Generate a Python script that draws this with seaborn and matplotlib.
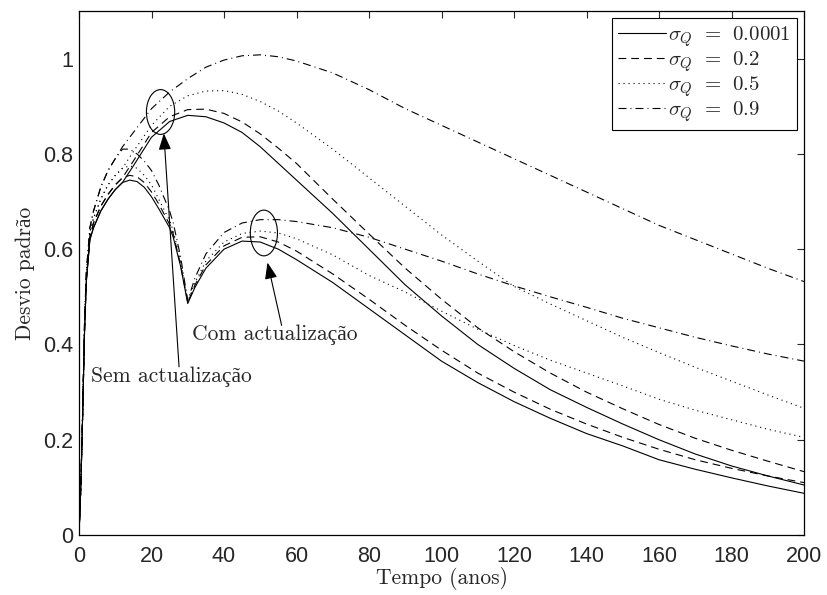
import matplotlib
matplotlib.use("Agg")
import matplotlib.pyplot as plt
from matplotlib.patches import Ellipse
from matplotlib.lines import Line2D
import pandas as pd
import numpy as np
import seaborn as sns

# shared start of every curve (before the two cases split)
t_early = [0, 0.5, 1, 1.5, 2, 3, 4, 6, 8, 10]
early_solid = [0, 0.10, 0.25, 0.42, 0.53, 0.62, 0.645, 0.68, 0.705, 0.725]
early_dashed = [0, 0.10, 0.25, 0.42, 0.535, 0.625, 0.655, 0.69, 0.715, 0.735]
early_dotted = [0, 0.10, 0.25, 0.43, 0.54, 0.635, 0.665, 0.705, 0.735, 0.755]
early_dashdot = [0, 0.10, 0.26, 0.44, 0.55, 0.645, 0.68, 0.73, 0.765, 0.79]

# sem actualizacao
t_sem = [12, 15, 20, 25, 30, 35, 40, 45, 50, 55, 60, 70, 80, 90, 100,
         110, 120, 130, 140, 150, 160, 170, 180, 190, 200]
sem_solid = [0.74, 0.775, 0.835, 0.868, 0.881, 0.878, 0.865, 0.845, 0.815, 0.78,
             0.745, 0.675, 0.60, 0.525, 0.46, 0.40, 0.35, 0.305, 0.268, 0.233,
             0.20, 0.17, 0.145, 0.124, 0.105]
sem_dashed = [0.75, 0.785, 0.845, 0.878, 0.893, 0.894, 0.885, 0.867, 0.842, 0.812,
              0.78, 0.705, 0.632, 0.56, 0.495, 0.435, 0.385, 0.34, 0.30, 0.265,
              0.232, 0.203, 0.178, 0.155, 0.133]
sem_dotted = [0.77, 0.805, 0.86, 0.90, 0.922, 0.932, 0.933, 0.925, 0.91, 0.89,
              0.865, 0.81, 0.75, 0.69, 0.63, 0.575, 0.522, 0.485, 0.45, 0.415,
              0.383, 0.352, 0.323, 0.294, 0.266]
sem_dashdot = [0.815, 0.845, 0.895, 0.93, 0.958, 0.982, 0.997, 1.006, 1.008, 1.004,
               0.995, 0.97, 0.935, 0.895, 0.86, 0.825, 0.79, 0.755, 0.72, 0.685,
               0.65, 0.62, 0.59, 0.56, 0.532]

# com actualizacao
t_com = [12, 14, 16, 18, 20, 22, 25, 26, 28, 30, 32, 35, 40, 45, 50, 55, 60, 70,
         80, 90, 100, 110, 120, 130, 140, 150, 160, 170, 180, 190, 200]
com_solid = [0.74, 0.745, 0.742, 0.73, 0.71, 0.685, 0.645, 0.625, 0.565, 0.486,
             0.52, 0.56, 0.60, 0.617, 0.615, 0.60, 0.578, 0.53, 0.475, 0.42, 0.365,
             0.32, 0.28, 0.245, 0.213, 0.187, 0.158, 0.138, 0.12, 0.103, 0.0875]
com_dashed = [0.75, 0.755, 0.752, 0.74, 0.72, 0.695, 0.652, 0.632, 0.568, 0.488,
              0.525, 0.567, 0.607, 0.625, 0.626, 0.615, 0.596, 0.548, 0.495, 0.44,
              0.388, 0.34, 0.30, 0.264, 0.233, 0.205, 0.18, 0.158, 0.14, 0.124, 0.11]
com_dotted = [0.77, 0.775, 0.77, 0.755, 0.735, 0.705, 0.66, 0.638, 0.575, 0.49,
              0.53, 0.575, 0.615, 0.633, 0.638, 0.634, 0.622, 0.588, 0.545, 0.51,
              0.47, 0.432, 0.398, 0.367, 0.34, 0.313, 0.285, 0.262, 0.242, 0.222, 0.205]
com_dashdot = [0.81, 0.81, 0.80, 0.785, 0.765, 0.735, 0.68, 0.655, 0.585, 0.492,
               0.54, 0.59, 0.635, 0.655, 0.662, 0.662, 0.658, 0.645, 0.625, 0.60,
               0.575, 0.548, 0.523, 0.50, 0.478, 0.455, 0.435, 0.415, 0.397, 0.38, 0.365]

sigmas = ["0.0001", "0.2", "0.5", "0.9"]

sns.set_style("white")
plt.rcParams["font.family"] = ["Liberation Sans", "DejaVu Sans"]
plt.rcParams["mathtext.fontset"] = "cm"
serif = ["cmr10", "Liberation Serif", "DejaVu Serif"]

styles = {
    "0.0001": "-",
    "0.2": (0, (7, 4.5)),
    "0.5": (0, (1, 3.5)),
    "0.9": (0, (7.2, 3.6, 0.9, 3.6)),
}

early = dict(zip(sigmas, [early_solid, early_dashed, early_dotted, early_dashdot]))
sem = dict(zip(sigmas, [sem_solid, sem_dashed, sem_dotted, sem_dashdot]))
com = dict(zip(sigmas, [com_solid, com_dashed, com_dotted, com_dashdot]))

fig = plt.figure(figsize=(8.27, 5.95), dpi=100)
ax = fig.add_axes([79 / 827, 1 - 535 / 595, 725 / 827, 524 / 595])

for s in sigmas:
    for tt, vals in [(t_sem, sem[s]), (t_com, com[s])]:
        df = pd.DataFrame({"t": t_early + tt, "v": early[s] + vals})
        sns.lineplot(data=df, x="t", y="v", ax=ax, color="black", lw=0.8,
                     linestyle=styles[s], estimator=None, sort=False)

ax.set_xlim(0, 200)
ax.set_ylim(0, 1.1)
ax.set_xticks(np.arange(0, 201, 20))
ax.set_yticks([0, 0.2, 0.4, 0.6, 0.8, 1])
ax.set_yticklabels(["0", "0.2", "0.4", "0.6", "0.8", "1"])
ax.tick_params(direction="in", length=5, width=0.8, top=True, right=True,
               labelsize=15.5)
ax.tick_params(axis="x", pad=8)
ax.tick_params(axis="y", pad=4)
for sp in ax.spines.values():
    sp.set_color("black")
    sp.set_linewidth(0.9)

ax.set_xlabel("Tempo (anos)", family=serif, fontsize=15.5, labelpad=0)
ax.set_ylabel("Desvio padrão", family=serif, fontsize=15.5, labelpad=6)

# annotations
ax.add_patch(Ellipse((22.5, 0.888), 7.8, 0.094, fill=False, ec="black", lw=0.8))
ax.add_patch(Ellipse((51.0, 0.634), 7.5, 0.096, fill=False, ec="black", lw=0.8))
arrow = dict(arrowstyle="-|>,head_length=1.0,head_width=0.38", color="black",
             lw=0.8, shrinkA=0, shrinkB=0)
ax.annotate("", xy=(23.4, 0.843), xytext=(27.6, 0.353), arrowprops=arrow)
ax.annotate("", xy=(52.0, 0.572), xytext=(55.9, 0.44), arrowprops=arrow)
ax.text(3.4, 0.332, "Sem actualização", family=serif, fontsize=15.5,
        ha="left", va="center")
ax.text(31.1, 0.421, "Com actualização", family=serif, fontsize=15.5,
        ha="left", va="center")

handles = [Line2D([], [], color="black", lw=0.8, linestyle=styles[s]) for s in sigmas]
labels = [r"$\sigma_Q\;\,=\;\,%s$" % s for s in sigmas]
leg = ax.legend(handles, labels, loc="upper right", fontsize=15, frameon=True,
                fancybox=False, edgecolor="black", framealpha=1,
                handlelength=2.3, handletextpad=0.1, labelspacing=0.0,
                borderpad=0.3, borderaxespad=0.35)
leg.get_frame().set_linewidth(0.8)

fig.savefig("out.png", dpi=100)
